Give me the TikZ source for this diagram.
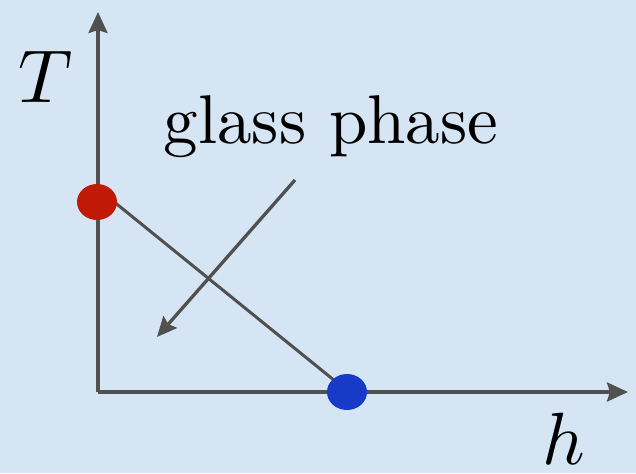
\documentclass[tikz,border=0pt]{standalone}
\usepackage{graphicx}
\usetikzlibrary{arrows.meta,shapes.geometric}
\definecolor{bgblue}{RGB}{214,229,243}
\definecolor{axisgray}{RGB}{80,80,80}
\definecolor{dotred}{RGB}{192,26,6}
\definecolor{dotblue}{RGB}{24,58,200}
\tikzset{
  axisline/.style={draw=axisgray, line width=3.5pt, -{Stealth[length=21pt,width=19pt,inset=3pt]}},
  pointerarrow/.style={draw=axisgray, line width=3.3pt, -{Stealth[length=20pt,width=18pt,inset=3pt]}},
  phaseline/.style={draw=axisgray, line width=3pt},
  dot/.style={ellipse, minimum width=40pt, minimum height=36pt, inner sep=0pt},
  lbl/.style={inner sep=0pt, anchor=base, text=black}
}
\begin{document}
\begin{tikzpicture}[x=1pt,y=-1pt]
  \fill[bgblue] (0,0) rectangle (636,473);
  \useasboundingbox (0,0) rectangle (636,473);
  \coordinate (O) at (98,392);
  \coordinate (Ytip) at (98,12);
  \coordinate (Xtip) at (628,392);
  \coordinate (Astart) at (295,180);
  \coordinate (Aend) at (157,337);
  \draw[axisline] (O) -- (Ytip);
  \draw[axisline] (O) -- (Xtip);
  \node[dot] (r) at (97,202) {};
  \node[dot] (b) at (347,392) {};
  \draw[phaseline, shorten >=-2pt] ([yshift=12pt,xshift=4pt]r.south east) -- (b.north west);
  \fill[dotred] (r.center) ellipse [x radius=20pt, y radius=18pt];
  \fill[dotblue] (b.center) ellipse [x radius=20pt, y radius=18pt];
  \draw[pointerarrow] (Astart) -- (Aend);
  \node[lbl] (g) at (331,143) {\scalebox{6.9}{glass phase}};
  \node[lbl] (T) at (46,103) {\scalebox{7.5}{$T$}};
  \node[lbl] (h) at (564,464) {\scalebox{7.4}{$h$}};
\end{tikzpicture}
\end{document}
